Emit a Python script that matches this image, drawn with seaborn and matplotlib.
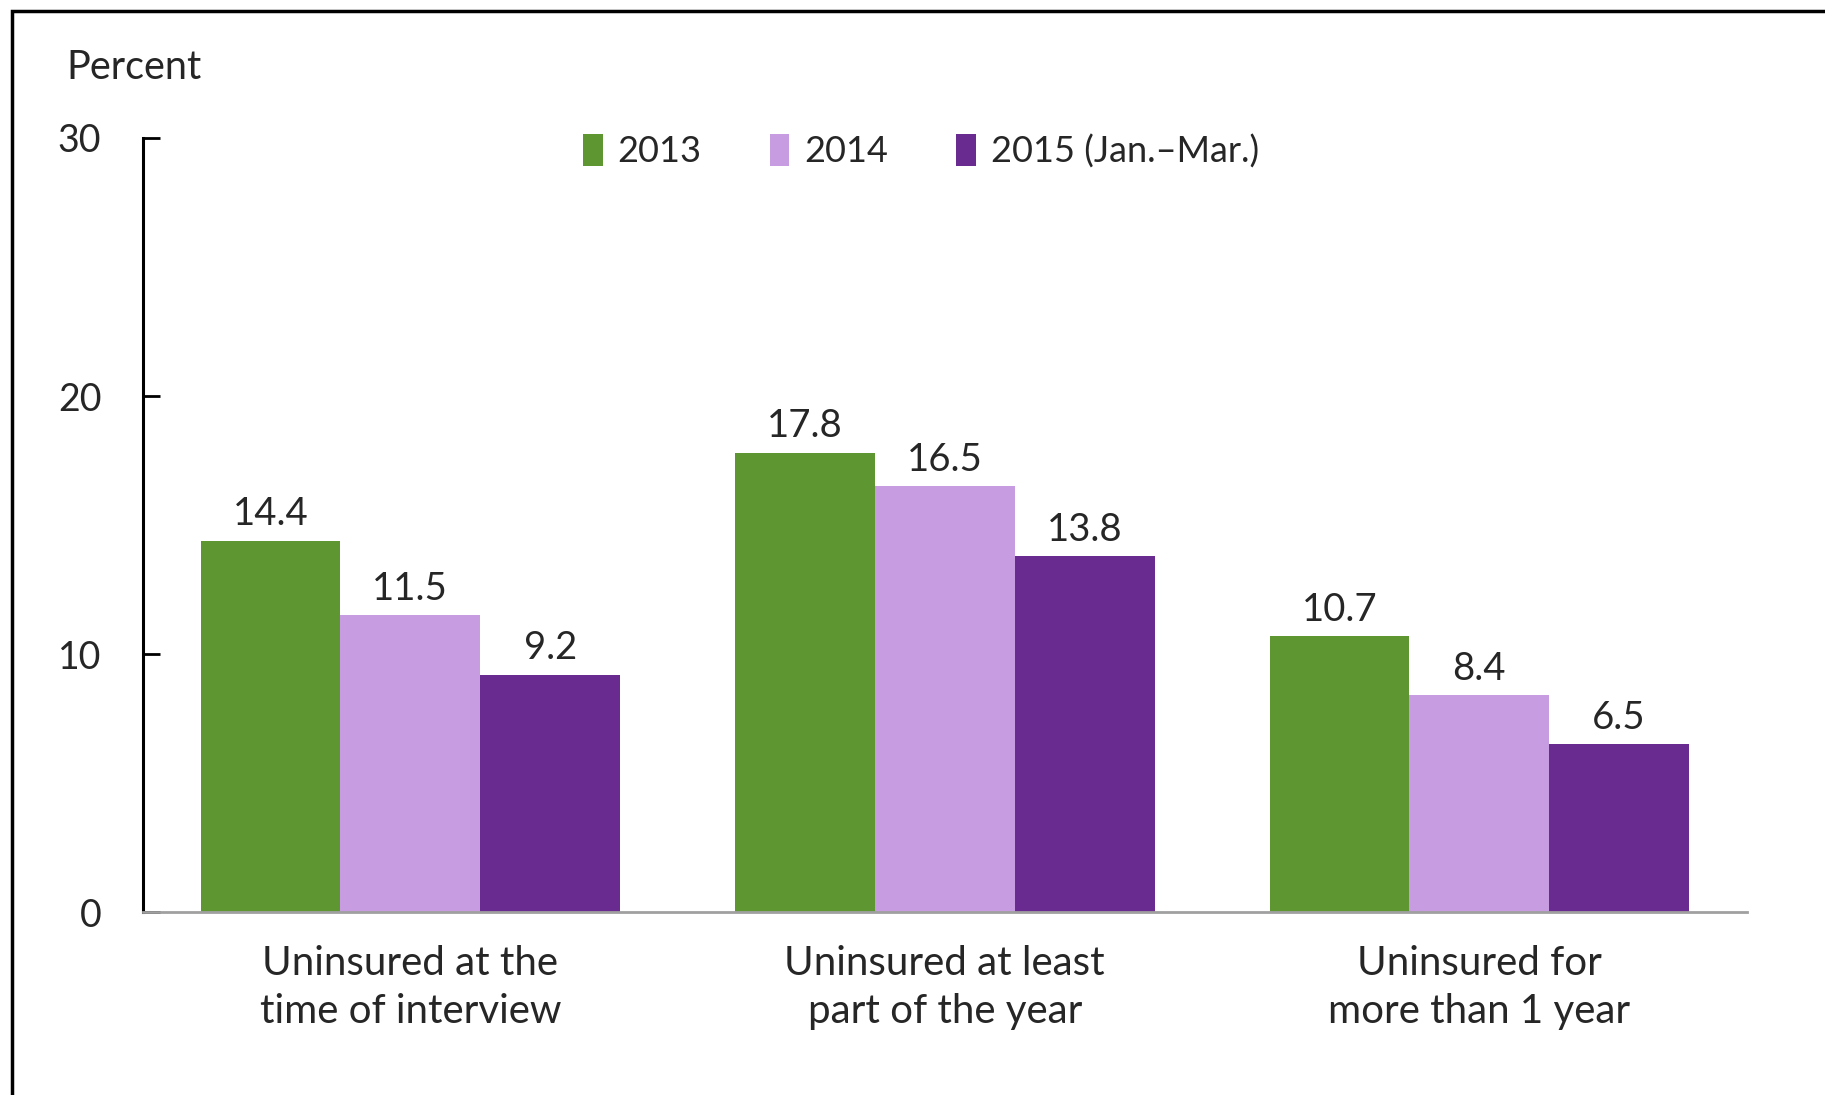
import numpy as np
import pandas as pd
import matplotlib
matplotlib.use("Agg")
import matplotlib.pyplot as plt
import seaborn as sns
from matplotlib.patches import Rectangle

categories = ["Uninsured at the\ntime of interview",
              "Uninsured at least\npart of the year",
              "Uninsured for\nmore than 1 year"]
years = ["2013", "2014", "2015 (Jan.\u2013Mar.)"]
v2013 = [14.4, 17.8, 10.7]
v2014 = [11.5, 16.5, 8.4]
v2015 = [9.2, 13.8, 6.5]
yticks = [0, 10, 20, 30]
colors = ["#5e9732", "#c79ce0", "#692b8f"]

sns.set_theme(style="white")
plt.rcParams["font.family"] = ["Lato", "DejaVu Sans"]

df = pd.DataFrame({
    "Category": categories * 3,
    "Year": [years[0]] * 3 + [years[1]] * 3 + [years[2]] * 3,
    "Percent": v2013 + v2014 + v2015,
})

fig = plt.figure(figsize=(18.25, 10.95), dpi=100)
ax = fig.add_axes([0.0784, 0.167, 0.957 - 0.0784, 0.874 - 0.167])

sns.barplot(data=df, x="Category", y="Percent", hue="Year", palette=colors,
            width=0.785, saturation=1, linewidth=0, ax=ax, legend=True)

# value labels above each bar
for c in ax.containers:
    ax.bar_label(c, labels=[f"{v:.1f}" for v in c.datavalues], padding=6,
                 fontsize=27.5)

ax.set_xlim(-0.5, 2.5)
ax.set_ylim(0, 30)
ax.set_yticks(yticks)
ax.set_xlabel("")
ax.set_ylabel("")
ax.tick_params(axis="y", left=True, direction="in", length=12, width=2,
               color="black", labelsize=27, pad=30)
ax.tick_params(axis="x", length=0, labelsize=29, pad=24)
for lab in ax.get_xticklabels():
    lab.set_linespacing(1.35)

sns.despine(ax=ax, top=True, right=True)
ax.spines["left"].set_color("black")
ax.spines["left"].set_linewidth(2.2)
ax.spines["bottom"].set_color("#a0a0a0")
ax.spines["bottom"].set_linewidth(2)

fig.text(57 * 1.164 / 1825, 1 - 58 * 1.164 / 1095, "Percent", fontsize=28.5,
         va="center", ha="left")

leg = ax.legend(loc="center", bbox_to_anchor=(0.485, 1 - (151 - 138) / 774), ncol=3,
                frameon=False, fontsize=26, handlelength=0.55, handleheight=1.0,
                handletextpad=0.4, columnspacing=1.9, borderaxespad=0)

# outer frame (only left and top edges fall inside the image)
fig.patches.append(Rectangle((12 / 1825, -0.1), 1.2, 1.1 - 11 / 1095,
                             transform=fig.transFigure, fill=False,
                             edgecolor="black", linewidth=2.5))

fig.savefig("out.png", dpi=100)
